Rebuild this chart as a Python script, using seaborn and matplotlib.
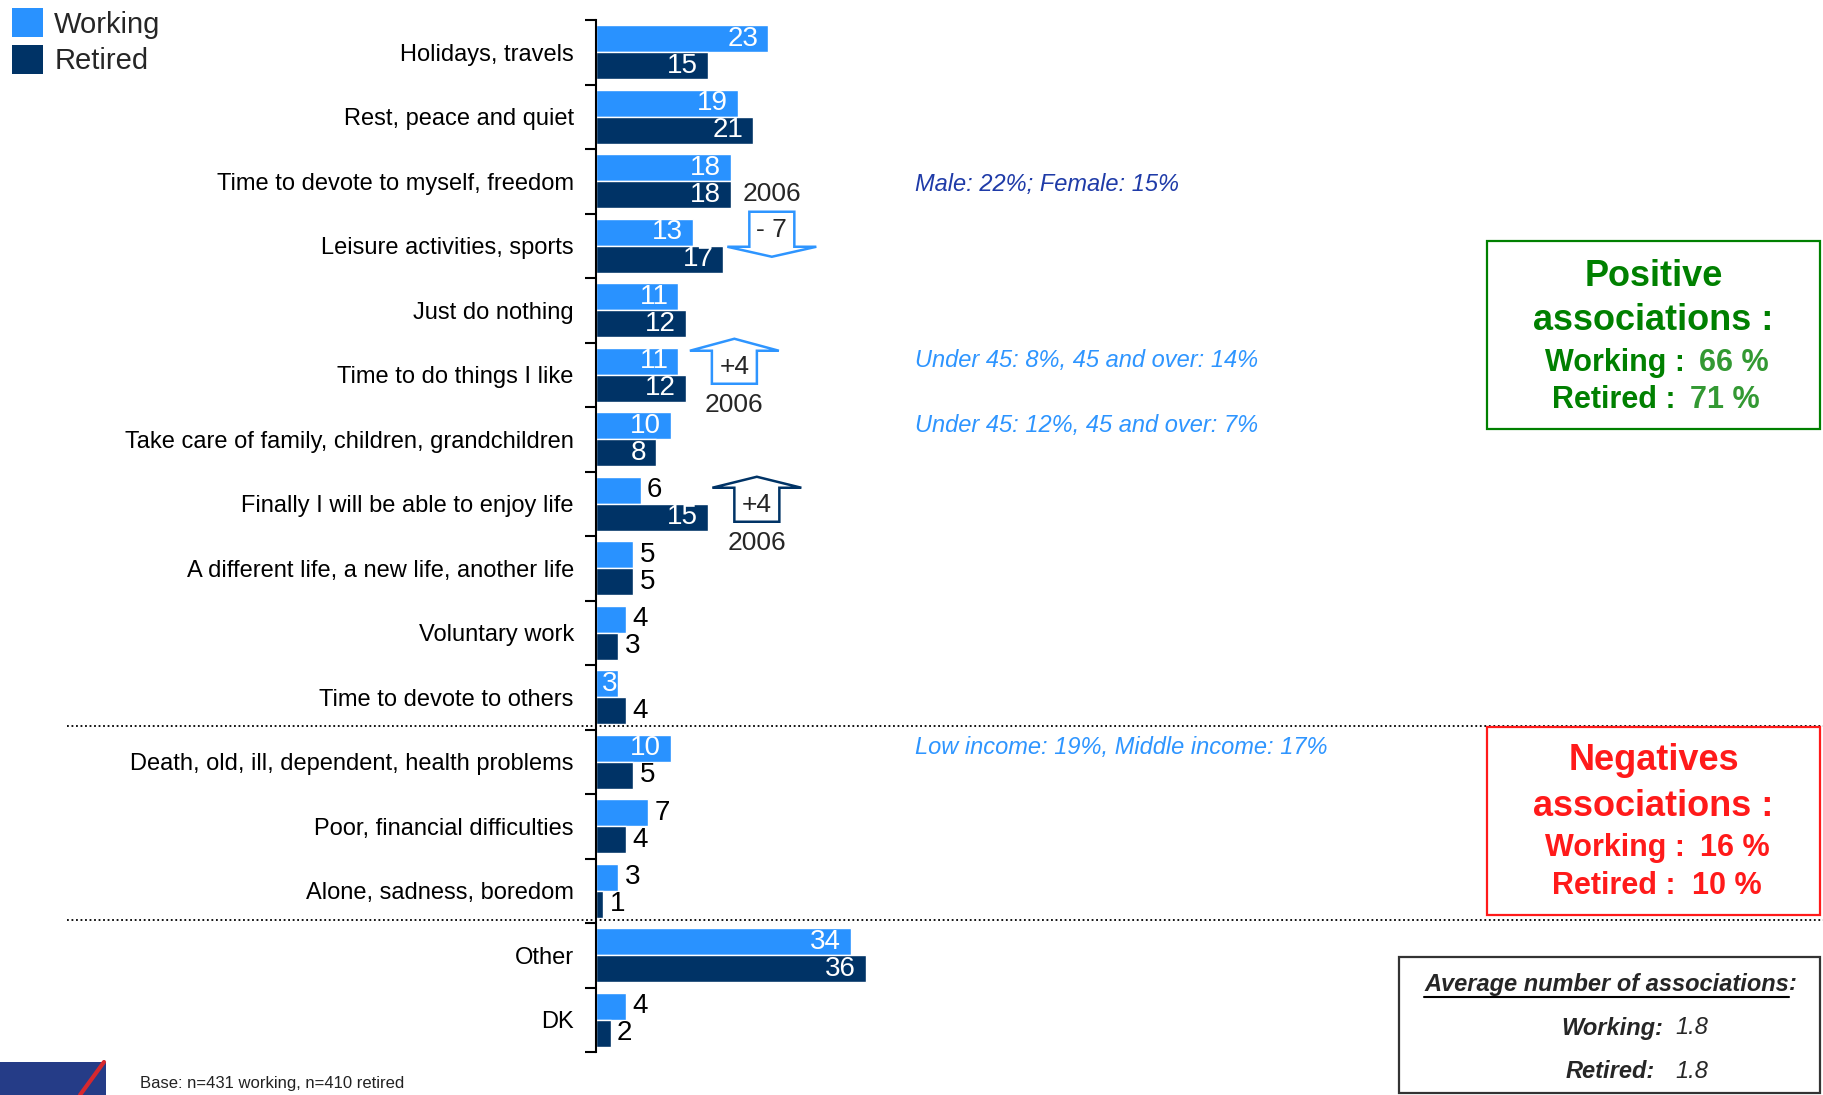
import numpy as np
import pandas as pd
import matplotlib
matplotlib.use('Agg')
import matplotlib.pyplot as plt
import matplotlib.transforms as mtransforms
from matplotlib.patches import Patch, Rectangle, Polygon
from matplotlib.lines import Line2D
import seaborn as sns

# Associations with retirement, % (Working vs Retired)
categories = [
    'Holidays, travels',
    'Rest, peace and quiet',
    'Time to devote to myself, freedom',
    'Leisure activities, sports',
    'Just do nothing',
    'Time to do things I like',
    'Take care of family, children, grandchildren',
    'Finally I will be able to enjoy life',
    'A different life, a new life, another life',
    'Voluntary work',
    'Time to devote to others',
    'Death, old, ill, dependent, health problems',
    'Poor, financial difficulties',
    'Alone, sadness, boredom',
    'Other',
    'DK',
]
working = [23, 19, 18, 13, 11, 11, 10, 6, 5, 4, 3, 10, 7, 3, 34, 4]
retired = [15, 21, 18, 17, 12, 12, 8, 15, 5, 3, 4, 5, 4, 1, 36, 2]
series = ['Working', 'Retired']
colors = ['#2992FF', '#003366']

# sub-group notes (row, text)
note_rows = [2, 5, 6, 11]
note_texts = ['Male: 22%; Female: 15%',
              'Under 45: 8%, 45 and over: 14%',
              'Under 45: 12%, 45 and over: 7%',
              'Low income: 19%, Middle income: 17%']
note_colors = ['#1F3BA8', '#2E95FF', '#2E95FF', '#2E95FF']

# evolution vs 2006 (row, label, direction, outline colour)
trend_rows = [3, 5, 7]
trend_labels = ['- 7', '+4', '+4']
trend_dirs = ['down', 'up', 'up']
trend_colors = ['#2E95FF', '#2E95FF', '#003366']

df = pd.DataFrame({
    'category': categories * 2,
    'series': ['Working'] * len(categories) + ['Retired'] * len(categories),
    'value': working + retired,
})

sns.set_style('white')
plt.rcParams['font.family'] = ['Liberation Sans', 'DejaVu Sans']

W, H = 1823, 1095
fig = plt.figure(figsize=(W / 100, H / 100), dpi=100)
ax = fig.add_axes([596 / W, 43 / H, 1227 / W, 1032 / H])

sns.barplot(data=df, x='value', y='category', hue='series', order=categories,
            hue_order=series, palette=colors, orient='h', width=0.83,
            saturation=1, legend=False, ax=ax)

n = len(categories)
ax.set_xlim(0, 1227 / 7.49)
ax.set_ylim(n - 0.5, -0.5)
ax.set_xlabel('')
ax.set_ylabel('')
ax.set_xticks([])
for s in ['top', 'right', 'bottom']:
    ax.spines[s].set_visible(False)
ax.spines['left'].set_linewidth(1.5)
ax.spines['left'].set_color('black')
ax.set_yticks(np.arange(-0.5, n, 1), minor=True)
ax.tick_params(axis='y', which='major', left=True, length=0, pad=16,
               labelsize=17, labelcolor='black')
ax.tick_params(axis='y', which='minor', left=True, length=8, width=1.5,
               direction='out', color='black')

# value labels
for cont, vals, name in zip(ax.containers, [working, retired], series):
    for bar, v, cat in zip(cont, vals, categories):
        y = bar.get_y() + bar.get_height() / 2
        if v >= 8:
            ax.annotate(str(v), (bar.get_width(), y), xytext=(-10, 0),
                        textcoords='offset pixels', ha='right', va='center',
                        fontsize=20, color='white')
        elif name == 'Working' and cat == 'Time to devote to others':
            # tiny bar, label drawn in white over its end
            ax.annotate(str(v), (bar.get_width(), y), xytext=(-1, 0),
                        textcoords='offset pixels', ha='right', va='center',
                        fontsize=20, color='white')
        else:
            ax.annotate(str(v), (bar.get_width(), y), xytext=(6, 0),
                        textcoords='offset pixels', ha='left', va='center',
                        fontsize=20, color='black')

# notes on the right
for r, t, c in zip(note_rows, note_texts, note_colors):
    dy = 0.05 if r == 2 else -0.22
    ax.text(42.6, r + dy, t, ha='left', va='center', fontsize=17,
            style='italic', color=c)


# block arrows for change since 2006
def block_arrow(x, row, direction, color, label):
    tr = mtransforms.Affine2D() + mtransforms.ScaledTranslation(x, row, ax.transData)
    hw, sw = 44.5, 22.5
    if direction == 'down':
        top, base, tip = 34, -1, -11
        verts = [(-sw, top), (sw, top), (sw, base), (hw, base), (0, tip),
                 (-hw, base), (-sw, base)]
        lab_y, yr_y = 16, 52
    else:
        tip, base, bot = 36, 24, -9
        if row == 7:
            tip, base, bot = 27, 16, -18
        verts = [(-sw, bot), (sw, bot), (sw, base), (hw, base), (0, tip),
                 (-hw, base), (-sw, base)]
        lab_y, yr_y = (bot + base) / 2, bot - 21
    ax.add_patch(Polygon(verts, closed=True, transform=tr, facecolor='white',
                         edgecolor=color, lw=1.8, clip_on=False, zorder=5))
    ax.annotate(label, (x, row), xytext=(0, lab_y), textcoords='offset pixels',
                ha='center', va='center', fontsize=19, zorder=6)
    ax.annotate('2006', (x, row), xytext=(0, yr_y), textcoords='offset pixels',
                ha='center', va='center', fontsize=19, zorder=6)


for r, lab, d, c in zip(trend_rows, trend_labels, trend_dirs, trend_colors):
    xend = max(working[r], retired[r])
    block_arrow(xend + 48.5 / 7.49, r, d, c, lab)

# dotted separators between positive / negative / other
sep = mtransforms.blended_transform_factory(fig.transFigure, ax.transData)
for ysep in [10.45, 13.45]:
    ax.add_line(Line2D([67 / W, 1.0], [ysep, ysep], transform=sep, color='black',
                       lw=1.3, ls=(0, (1, 1.5)), clip_on=False))

# legend
handles = [Patch(facecolor=c, edgecolor='none') for c in colors]
fig.legend(handles, series, loc='upper left', bbox_to_anchor=(0.005, 0.995),
           frameon=False, fontsize=21, handlelength=1.05, handleheight=1.15,
           handletextpad=0.4, labelspacing=0.2, borderaxespad=0, borderpad=0.1)


def box(x0, y0, x1, y1, color):
    fig.patches.append(Rectangle((x0 / W, 1 - y1 / H), (x1 - x0) / W, (y1 - y0) / H,
                                 transform=fig.transFigure, fill=False,
                                 edgecolor=color, lw=1.6))


# positive associations box
green, green2 = '#008000', '#339933'
box(1487, 241, 1820, 429, green)
fig.text(0.907, 1 - 276 / H, 'Positive', ha='center', va='center', fontsize=26,
         fontweight='bold', color=green)
fig.text(0.907, 1 - 320 / H, 'associations :', ha='center', va='center',
         fontsize=26, fontweight='bold', color=green)
fig.text(1685 / W, 1 - 363 / H, 'Working :', ha='right', va='center', fontsize=22,
         fontweight='bold', color=green)
fig.text(1699 / W, 1 - 363 / H, '66 %', ha='left', va='center', fontsize=22,
         fontweight='bold', color=green2)
fig.text(1676 / W, 1 - 400 / H, 'Retired :', ha='right', va='center', fontsize=22,
         fontweight='bold', color=green)
fig.text(1690 / W, 1 - 400 / H, '71 %', ha='left', va='center', fontsize=22,
         fontweight='bold', color=green2)

# negative associations box
red = '#FF1A1A'
box(1487, 727, 1820, 915, red)
fig.text(0.907, 1 - 761 / H, 'Negatives', ha='center', va='center', fontsize=26,
         fontweight='bold', color=red)
fig.text(0.907, 1 - 806 / H, 'associations :', ha='center', va='center',
         fontsize=26, fontweight='bold', color=red)
fig.text(1685 / W, 1 - 848 / H, 'Working :', ha='right', va='center', fontsize=22,
         fontweight='bold', color=red)
fig.text(1700 / W, 1 - 848 / H, '16 %', ha='left', va='center', fontsize=22,
         fontweight='bold', color=red)
fig.text(1676 / W, 1 - 886 / H, 'Retired :', ha='right', va='center', fontsize=22,
         fontweight='bold', color=red)
fig.text(1692 / W, 1 - 886 / H, '10 %', ha='left', va='center', fontsize=22,
         fontweight='bold', color=red)

# average number of associations box
box(1399, 957, 1820, 1093, '#333333')
t_avg = fig.text(1789 / W, 1 - 984 / H, 'Average number of associations',
                 ha='right', va='center', fontsize=17, fontweight='bold',
                 style='italic')
fig.text(1789 / W, 1 - 984 / H, ':', ha='left', va='center', fontsize=17,
         fontweight='bold', style='italic')
fig.text(1663 / W, 1 - 1028 / H, 'Working:', ha='right', va='center', fontsize=17,
         fontweight='bold', style='italic')
fig.text(1675 / W, 1 - 1028 / H, '1.8', ha='left', va='center', fontsize=17,
         style='italic')
fig.text(1655 / W, 1 - 1071 / H, 'Retired:', ha='right', va='center', fontsize=17,
         fontweight='bold', style='italic')
fig.text(1675 / W, 1 - 1071 / H, '1.8', ha='left', va='center', fontsize=17,
         style='italic')

fig.canvas.draw()
bb = t_avg.get_window_extent().transformed(fig.transFigure.inverted())
fig.add_artist(Line2D([bb.x0, bb.x1], [bb.y0 - 0.001, bb.y0 - 0.001],
                      transform=fig.transFigure, color='black', lw=1.5))

# logo block and base note
fig.patches.append(Rectangle((0, 0), 106 / W, 33 / H, transform=fig.transFigure,
                             facecolor='#253C87', edgecolor='none'))
fig.add_artist(Line2D([104 / W, 80 / W], [33 / H, 0], transform=fig.transFigure,
                      color='#D6282E', lw=3))
fig.text(140 / W, 4 / H, 'Base: n=431 working, n=410 retired',
         ha='left', va='bottom', fontsize=12, color='#222222')

fig.savefig('out.png', dpi=100)
